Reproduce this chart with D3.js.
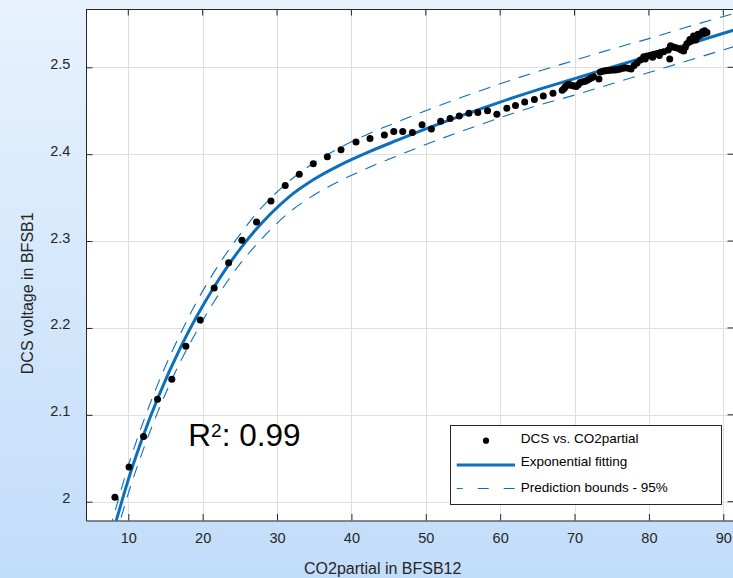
<!DOCTYPE html>
<html>
<head>
<meta charset="utf-8">
<script src="https://cdn.jsdelivr.net/npm/d3@7/dist/d3.min.js"></script>
<style>
    html, body { margin: 0; padding: 0; }
    body { width: 733px; height: 578px; overflow: hidden; }
    svg { display: block; font-family: "Liberation Sans", Arial, sans-serif; }
</style>
</head>
<body>
<div id="chart"></div>
<script>
// measurements: CO2partial (x) vs DCS voltage (y)
const co2 = [
    8.2, 10.1, 12.05, 13.93, 15.85, 17.74, 19.67, 21.55, 23.49, 25.28,
    27.25, 29.18, 31.1, 32.99, 34.87, 36.76, 38.6, 40.62, 42.5, 44.43,
    45.7, 46.9, 48.2, 49.5, 50.75, 52.0, 53.27, 54.5, 55.8, 57.0,
    58.3, 59.55, 60.9, 62.06, 63.3, 64.6, 65.8, 67.1, 68.34,
    68.6, 68.75, 68.95, 69.19, 69.4, 69.65, 69.9, 70.23, 70.5, 70.77,
    71.1, 71.44, 71.7, 72.0, 72.3, 72.56, 73.28, 73.46, 73.8, 74.13,
    74.45, 74.8, 75.15, 75.5, 75.8, 76.15, 76.5, 76.8, 77.2, 77.6,
    78.0, 78.4, 78.85, 79.3, 79.5, 79.75, 80.2, 80.5, 80.65, 81.1,
    81.4, 81.55, 81.98, 82.6, 82.8, 82.9, 83.3, 83.65, 84.0, 84.35,
    84.67, 84.9, 85.1, 85.45, 85.5, 85.8, 86.0, 86.15, 86.3, 86.5,
    86.6, 86.8, 87.1, 87.2, 87.35, 87.5, 87.6, 87.8
];
const dcs = [
    2.005, 2.040, 2.075, 2.118, 2.141, 2.179, 2.209, 2.246, 2.275, 2.301,
    2.322, 2.346, 2.364, 2.377, 2.389, 2.397, 2.405, 2.414, 2.418, 2.422,
    2.426, 2.426, 2.425, 2.434, 2.429, 2.438, 2.441, 2.444, 2.447, 2.448,
    2.450, 2.446, 2.453, 2.456, 2.460, 2.463, 2.467, 2.470, 2.4735,
    2.4755, 2.4775, 2.479, 2.4805, 2.4798, 2.479, 2.4785, 2.478, 2.480, 2.4825,
    2.4835, 2.484, 2.4852, 2.4865, 2.488, 2.489, 2.4865, 2.4946, 2.4955, 2.496,
    2.4963, 2.4966, 2.4968, 2.497, 2.4975, 2.498, 2.499, 2.4996, 2.4988, 2.498,
    2.502, 2.505, 2.5085, 2.512, 2.5095, 2.513, 2.514, 2.5115, 2.515, 2.516,
    2.5135, 2.517, 2.518, 2.520, 2.5096, 2.5249, 2.5233, 2.5225, 2.5215, 2.520,
    2.5188, 2.523, 2.527, 2.529, 2.532, 2.531, 2.536, 2.533, 2.5315, 2.535,
    2.538, 2.5365, 2.538, 2.541, 2.539, 2.542, 2.5395, 2.540
];

// exponential fit and 95% prediction bounds
const fitX = [7.5, 8.41, 10.11, 12.05, 13.93, 17.16, 19.08, 21.55, 23.49, 25.28, 27.25, 29.18, 31.74,
    34.87, 38.46, 42.5, 46.1, 50, 55, 60, 65, 70, 75, 80, 85, 91.5];
const fitY = [1.951, 1.979, 2.0283, 2.0768, 2.1185, 2.1799, 2.2114, 2.2475, 2.2727, 2.2936, 2.3141, 2.3317, 2.3517,
    2.3705, 2.3874, 2.4032, 2.4158, 2.4291, 2.445, 2.460, 2.474, 2.487, 2.500, 2.513, 2.526, 2.543];
const fitUpper = [1.967, 1.995, 2.0443, 2.0928, 2.1345, 2.1959, 2.2284, 2.2645, 2.2897, 2.3106, 2.3321, 2.3497, 2.3697,
    2.3895, 2.4074, 2.4242, 2.4368, 2.4501, 2.466, 2.481, 2.495, 2.508, 2.521, 2.533, 2.546, 2.562];
const fitLower = [1.935, 1.963, 2.0123, 2.0608, 2.1025, 2.1639, 2.1944, 2.2305, 2.2557, 2.2766, 2.2961, 2.3137, 2.3337,
    2.3525, 2.3694, 2.3852, 2.3978, 2.4111, 2.427, 2.442, 2.456, 2.468, 2.481, 2.494, 2.507, 2.524];

const xTicks = [10, 20, 30, 40, 50, 60, 70, 80, 90];
const yTicks = [2, 2.1, 2.2, 2.3, 2.4, 2.5];
const yTickLabels = ["2", "2.1", "2.2", "2.3", "2.4", "2.5"];
const legendLabels = ["DCS vs. CO2partial", "Exponential fitting", "Prediction bounds - 95%"];

const width = 733;
const height = 578;
const plot = { left: 86, right: 734, top: 9, bottom: 520.5 };
const axisColor = "#262626";
const fitColor = "#0b6fbd";

const xScale = d3.scaleLinear().domain([4.313, 91.44]).range([plot.left, plot.right]);
const yScale = d3.scaleLinear().domain([1.97836, 2.5671]).range([plot.bottom, plot.top]);

const svg = d3.select("#chart")
    .append("svg")
    .attr("width", width)
    .attr("height", height);

const defs = svg.append("defs");
const grad = defs.append("linearGradient")
    .attr("id", "bg")
    .attr("x1", 0).attr("y1", 0).attr("x2", 0).attr("y2", 1);
grad.append("stop").attr("offset", "0%").attr("stop-color", "#e7f2fd");
grad.append("stop").attr("offset", "100%").attr("stop-color", "#c2ddfa");

defs.append("clipPath").attr("id", "plotclip")
    .append("rect")
    .attr("x", plot.left).attr("y", plot.top)
    .attr("width", plot.right - plot.left).attr("height", plot.bottom - plot.top);

svg.append("rect")
    .attr("width", width).attr("height", height)
    .attr("fill", "url(#bg)");

svg.append("rect")
    .attr("x", plot.left).attr("y", plot.top)
    .attr("width", plot.right - plot.left).attr("height", plot.bottom - plot.top)
    .attr("fill", "#ffffff");

// grid
const grid = svg.append("g").attr("stroke", "#dfdfdf").attr("stroke-width", 1);
grid.selectAll(".gx")
    .data(xTicks)
    .join("line")
    .attr("x1", d => Math.round(xScale(d)) + 0.5)
    .attr("x2", d => Math.round(xScale(d)) + 0.5)
    .attr("y1", plot.top)
    .attr("y2", plot.bottom);
grid.selectAll(".gy")
    .data(yTicks)
    .join("line")
    .attr("y1", d => Math.round(yScale(d)) + 0.5)
    .attr("y2", d => Math.round(yScale(d)) + 0.5)
    .attr("x1", plot.left)
    .attr("x2", plot.right);

// fit and bounds
const plotArea = svg.append("g").attr("clip-path", "url(#plotclip)");
const lineOf = ys => d3.line()
    .x((d, i) => xScale(fitX[i]))
    .y(d => yScale(d))
    .curve(d3.curveMonotoneX)(ys);

[fitUpper, fitLower].forEach(b => {
    plotArea.append("path")
        .attr("d", lineOf(b))
        .attr("fill", "none")
        .attr("stroke", fitColor)
        .attr("stroke-width", 1.1)
        .attr("stroke-dasharray", "12,9");
});

plotArea.append("path")
    .attr("d", lineOf(fitY))
    .attr("fill", "none")
    .attr("stroke", fitColor)
    .attr("stroke-width", 3);

plotArea.append("g")
    .selectAll("circle")
    .data(co2)
    .join("circle")
    .attr("cx", d => xScale(d))
    .attr("cy", (d, i) => yScale(dcs[i]))
    .attr("r", 3.5)
    .attr("fill", "#000000");

// axes (ticks point inward, MATLAB style)
const tickLen = 6.5;
const xAxis = svg.append("g")
    .attr("transform", `translate(0,${plot.bottom})`)
    .call(d3.axisBottom(xScale).tickValues(xTicks).tickSize(-tickLen).tickSizeOuter(0).tickPadding(0));
const yAxis = svg.append("g")
    .attr("transform", `translate(${plot.left},0)`)
    .call(d3.axisLeft(yScale).tickValues(yTicks).tickSize(-tickLen).tickSizeOuter(0).tickPadding(0)
        .tickFormat((d, i) => yTickLabels[i]));

[xAxis, yAxis].forEach(ax => {
    ax.select(".domain").attr("stroke", axisColor);
    ax.selectAll(".tick line").attr("stroke", axisColor);
    ax.selectAll("text")
        .attr("fill", axisColor)
        .attr("font-size", 14.5)
        .attr("font-family", "'Liberation Sans', Arial, sans-serif");
});

xAxis.selectAll("text")
    .attr("y", 22.2)
    .attr("dy", null);
yAxis.selectAll("text")
    .attr("x", -15.7)
    .attr("y", 1)
    .attr("dy", null);

// top and right ticks
svg.append("line")
    .attr("x1", plot.left).attr("x2", plot.right)
    .attr("y1", plot.top + 0.5).attr("y2", plot.top + 0.5)
    .attr("stroke", axisColor);
svg.append("g")
    .selectAll("line")
    .data(xTicks)
    .join("line")
    .attr("x1", d => xScale(d)).attr("x2", d => xScale(d))
    .attr("y1", plot.top).attr("y2", plot.top + tickLen)
    .attr("stroke", axisColor);
svg.append("g")
    .selectAll("line")
    .data(yTicks)
    .join("line")
    .attr("y1", d => yScale(d)).attr("y2", d => yScale(d))
    .attr("x1", plot.right).attr("x2", plot.right - tickLen)
    .attr("stroke", axisColor);

// axis titles
svg.append("text")
    .attr("x", 382.7)
    .attr("y", 574)
    .attr("text-anchor", "middle")
    .attr("font-size", 16)
    .attr("fill", axisColor)
    .text("CO2partial in BFSB12");

svg.append("text")
    .attr("transform", "translate(33,293.3) rotate(-90)")
    .attr("text-anchor", "middle")
    .attr("font-size", 16)
    .attr("fill", axisColor)
    .text("DCS voltage in BFSB1");

// R^2 annotation
const r2 = svg.append("text")
    .attr("x", 188.3)
    .attr("y", 446)
    .attr("font-size", 31.5)
    .attr("fill", "#000000");
r2.append("tspan").text("R");
r2.append("tspan").attr("font-size", 19).attr("dy", -9.5).text("2");
r2.append("tspan").attr("dy", 9.5).text(": 0.99");

// legend
const legend = svg.append("g");
legend.append("rect")
    .attr("x", 450.5).attr("y", 425.5)
    .attr("width", 271).attr("height", 79)
    .attr("fill", "#ffffff")
    .attr("stroke", axisColor)
    .attr("stroke-width", 1);

const legendRowY = [440.7, 465, 488.5];
legend.append("circle")
    .attr("cx", 486).attr("cy", legendRowY[0])
    .attr("r", 3.1)
    .attr("fill", "#000000");
legend.append("line")
    .attr("x1", 456.7).attr("x2", 515)
    .attr("y1", legendRowY[1]).attr("y2", legendRowY[1])
    .attr("stroke", fitColor).attr("stroke-width", 3);
legend.append("line")
    .attr("x1", 456.7).attr("x2", 515)
    .attr("y1", legendRowY[2]).attr("y2", legendRowY[2])
    .attr("stroke", fitColor).attr("stroke-width", 1.1)
    .attr("stroke-dasharray", "11,15")
    .attr("stroke-dashoffset", 5);

legend.selectAll(".lt")
    .data(legendLabels)
    .join("text")
    .attr("x", 520.7)
    .attr("y", (d, i) => [442.6, 466, 491.6][i])
    .attr("font-size", 13.5)
    .attr("fill", "#000000")
    .text(d => d);
</script>
</body>
</html>
